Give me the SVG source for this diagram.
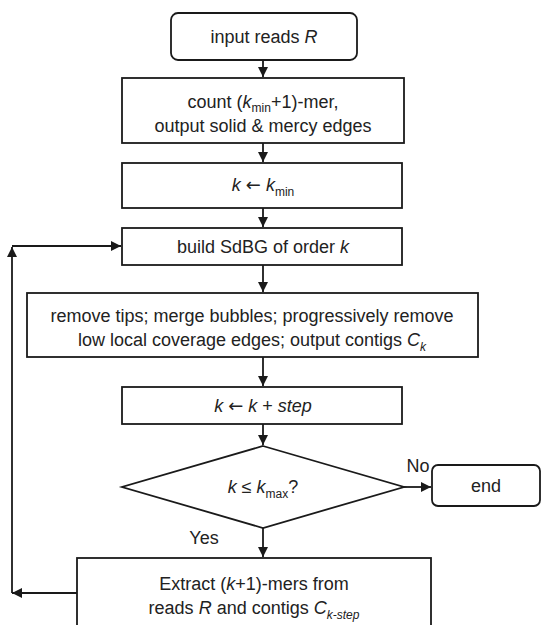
<svg xmlns="http://www.w3.org/2000/svg" width="544" height="625" viewBox="0 0 544 625">
<style>
.box{fill:#fff;stroke:#1a1a1a;stroke-width:1.8}
.t{font-family:"Liberation Sans",Arial,sans-serif;font-size:18px;fill:#222;text-anchor:middle}
.sub{font-size:12px}
.ar{font-family:"DejaVu Sans",sans-serif}
.c{fill:none;stroke:#1a1a1a;stroke-width:1.8}
</style>
<defs>
<marker id="ah" viewBox="0 0 10 10" refX="10" refY="5" markerWidth="10" markerHeight="10" markerUnits="userSpaceOnUse" orient="auto">
<path d="M0,0 L10,5 L0,10 z" fill="#1a1a1a"/>
</marker>
</defs>
<rect width="544" height="625" fill="#fff"/>
<g id="connectors">
<line class="c" x1="263" y1="60" x2="263" y2="77" marker-end="url(#ah)"/>
<line class="c" x1="263" y1="143" x2="263" y2="162" marker-end="url(#ah)"/>
<line class="c" x1="263" y1="208" x2="263" y2="227" marker-end="url(#ah)"/>
<line class="c" x1="263" y1="265" x2="263" y2="292" marker-end="url(#ah)"/>
<line class="c" x1="263" y1="357" x2="263" y2="386" marker-end="url(#ah)"/>
<line class="c" x1="263" y1="424" x2="263" y2="445" marker-end="url(#ah)"/>
<line class="c" x1="404" y1="487" x2="431" y2="487" marker-end="url(#ah)"/>
<line class="c" x1="263" y1="528" x2="263" y2="557" marker-end="url(#ah)"/>
<line class="c" x1="77" y1="593" x2="12" y2="593" marker-end="url(#ah)"/>
<line class="c" x1="12" y1="593" x2="12" y2="247" marker-end="url(#ah)"/>
<line class="c" x1="12" y1="246" x2="121" y2="246" marker-end="url(#ah)"/>
</g>
<g id="input">
<rect class="box" x="171" y="13" width="186" height="47" rx="7"/>
<text class="t" x="264" y="43">input reads <tspan font-style="italic">R</tspan></text>
</g>
<g id="count">
<rect class="box" x="122" y="78" width="282" height="65"/>
<text class="t" x="263" y="108">count (<tspan font-style="italic">k</tspan><tspan class="sub" dy="4">min</tspan><tspan dy="-4">+1)-mer,</tspan></text>
<text class="t" x="263" y="132">output solid &amp; mercy edges</text>
</g>
<g id="kinit">
<rect class="box" x="122" y="163" width="280" height="45"/>
<text class="t" x="263" y="191"><tspan font-style="italic">k</tspan> <tspan class="ar">←</tspan> <tspan font-style="italic">k</tspan><tspan class="sub" dy="5">min</tspan></text>
</g>
<g id="build">
<rect class="box" x="122" y="228" width="280" height="37"/>
<text class="t" x="263" y="253">build SdBG of order <tspan font-style="italic">k</tspan></text>
</g>
<g id="remove">
<rect class="box" x="27" y="293" width="451" height="64"/>
<text class="t" x="252" y="322">remove tips; merge bubbles; progressively remove</text>
<text class="t" x="252" y="346">low local coverage edges; output contigs <tspan font-style="italic">C</tspan><tspan class="sub" font-style="italic" dy="5">k</tspan></text>
</g>
<g id="kstep">
<rect class="box" x="122" y="387" width="280" height="37"/>
<text class="t" x="263" y="412"><tspan font-style="italic">k</tspan> <tspan class="ar">←</tspan> <tspan font-style="italic">k</tspan> + <tspan font-style="italic">step</tspan></text>
</g>
<g id="decision">
<polygon class="box" points="263,446 404,487 263,528 122,487"/>
<text class="t" x="263" y="493"><tspan font-style="italic">k</tspan> ≤ <tspan font-style="italic">k</tspan><tspan class="sub" dy="5">max</tspan><tspan dy="-5">?</tspan></text>
<text class="t" x="418" y="472">No</text>
<text class="t" x="204" y="544">Yes</text>
</g>
<g id="end">
<rect class="box" x="432" y="465" width="108" height="41" rx="6"/>
<text class="t" x="486" y="492">end</text>
</g>
<g id="extract">
<rect class="box" x="77" y="558" width="354" height="80"/>
<text class="t" x="254" y="590">Extract (<tspan font-style="italic">k</tspan>+1)-mers from</text>
<text class="t" x="254" y="614">reads <tspan font-style="italic">R</tspan> and contigs <tspan font-style="italic">C</tspan><tspan class="sub" font-style="italic" dy="5">k-step</tspan></text>
</g>
</svg>
